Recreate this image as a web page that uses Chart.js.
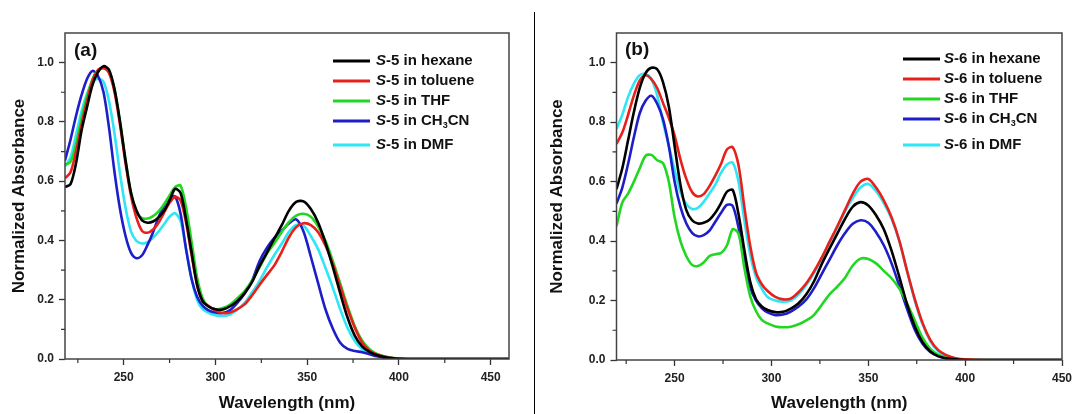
<!DOCTYPE html>
<html>
<head>
<meta charset="utf-8">
<script src="https://cdn.jsdelivr.net/npm/chart.js@4.4.1/dist/chart.umd.min.js"></script>
<style>
  html, body { margin: 0; padding: 0; background: #fff; }
  #wrap { position: relative; width: 1075px; height: 414px; overflow: hidden; background: #fff; }
  #chartA { position: absolute; left: 0; top: 0; }
  #chartB { position: absolute; left: 535px; top: 0; }
  #divider { position: absolute; left: 534px; top: 12px; width: 1px; height: 402px; background: #000; }
</style>
</head>
<body>
<div id="wrap">
  <canvas id="chartA" width="534" height="414"></canvas>
  <div id="divider"></div>
  <canvas id="chartB" width="540" height="414"></canvas>
</div>
<script>
  // wavelengths (nm)
  const waveA = [218, 221, 224, 227, 230, 233, 236, 239, 242, 245, 248, 251, 254, 257, 260, 263, 266, 269, 272, 275, 278, 281, 284, 287, 290, 293, 296,
    300, 304, 308, 312, 316, 320, 324, 328, 332, 336, 340, 344, 348, 352, 356, 360, 364, 368, 372, 376, 380, 384, 388, 392, 396, 400,
    410, 430, 460];

  const hexaneA = [0.58, 0.59, 0.66, 0.77, 0.85, 0.925, 0.968, 0.988, 0.976, 0.91, 0.80, 0.67, 0.56, 0.50, 0.468, 0.46, 0.464, 0.478, 0.50, 0.535, 0.574, 0.56, 0.47, 0.36, 0.25, 0.195, 0.178,
    0.168, 0.167, 0.178, 0.196, 0.223, 0.26, 0.313, 0.358, 0.405, 0.45, 0.50, 0.53, 0.532, 0.506, 0.46, 0.392, 0.31, 0.222, 0.14, 0.078, 0.042, 0.024, 0.013, 0.007, 0.003, 0.001,
    0, 0, 0];
  const tolueneA = [0.61, 0.63, 0.70, 0.79, 0.87, 0.94, 0.975, 0.983, 0.965, 0.90, 0.79, 0.66, 0.55, 0.475, 0.432, 0.426, 0.437, 0.46, 0.494, 0.527, 0.547, 0.535, 0.46, 0.35, 0.25, 0.195, 0.18,
    0.163, 0.155, 0.157, 0.168, 0.185, 0.215, 0.25, 0.283, 0.315, 0.36, 0.41, 0.445, 0.458, 0.452, 0.428, 0.382, 0.32, 0.245, 0.17, 0.105, 0.055, 0.028, 0.015, 0.008, 0.003, 0.001,
    0, 0, 0];
  const thfA = [0.655, 0.665, 0.725, 0.81, 0.885, 0.945, 0.975, 0.98, 0.968, 0.91, 0.80, 0.672, 0.56, 0.495, 0.475, 0.474, 0.482, 0.498, 0.522, 0.552, 0.58, 0.585, 0.51, 0.395, 0.275, 0.205, 0.178,
    0.168, 0.172, 0.184, 0.205, 0.23, 0.265, 0.308, 0.355, 0.39, 0.427, 0.462, 0.484, 0.49, 0.48, 0.447, 0.398, 0.33, 0.255, 0.178, 0.11, 0.062, 0.033, 0.017, 0.009, 0.004, 0.001,
    0, 0, 0];
  const ch3cnA = [0.67, 0.74, 0.82, 0.89, 0.945, 0.972, 0.955, 0.9, 0.78, 0.63, 0.505, 0.415, 0.358, 0.34, 0.35, 0.385, 0.428, 0.478, 0.518, 0.545, 0.548, 0.49, 0.37, 0.27, 0.21, 0.18, 0.165,
    0.157, 0.155, 0.165, 0.19, 0.222, 0.265, 0.33, 0.375, 0.408, 0.432, 0.457, 0.471, 0.43, 0.345, 0.255, 0.167, 0.102, 0.055, 0.034, 0.027, 0.023, 0.016, 0.009, 0.004, 0.002, 0.001,
    0, 0, 0];
  const dmfA = [0.65, 0.68, 0.755, 0.835, 0.895, 0.935, 0.946, 0.935, 0.87, 0.76, 0.625, 0.51, 0.43, 0.398, 0.39, 0.394, 0.41, 0.43, 0.455, 0.48, 0.492, 0.465, 0.37, 0.27, 0.2, 0.168, 0.157,
    0.148, 0.145, 0.15, 0.167, 0.19, 0.225, 0.263, 0.308, 0.35, 0.388, 0.428, 0.452, 0.45, 0.415, 0.37, 0.307, 0.24, 0.168, 0.105, 0.06, 0.033, 0.02, 0.012, 0.006, 0.003, 0.001,
    0, 0, 0];

  // wavelengths (nm)
  const waveB = [220, 223, 226, 229, 232, 235, 238, 241, 244, 247, 250, 253, 256, 259, 262, 265, 268, 271, 274, 277, 280, 283, 286, 289, 292, 295, 298,
    302, 306, 310, 314, 318, 322, 326, 330, 334, 338, 342, 346, 350, 354, 358, 362, 366, 370, 374, 378, 382, 386, 390,
    395, 400, 410, 430, 450];

  const hexaneB = [0.575, 0.645, 0.74, 0.835, 0.915, 0.965, 0.983, 0.978, 0.935, 0.853, 0.72, 0.59, 0.505, 0.47, 0.459, 0.462, 0.472, 0.495, 0.528, 0.566, 0.572, 0.49, 0.37, 0.264, 0.205, 0.18, 0.168,
    0.161, 0.162, 0.173, 0.191, 0.221, 0.265, 0.323, 0.375, 0.425, 0.475, 0.516, 0.531, 0.52, 0.487, 0.44, 0.368, 0.28, 0.188, 0.113, 0.06, 0.029, 0.013, 0.006,
    0.002, 0, 0, 0, 0];
  const tolueneB = [0.727, 0.765, 0.825, 0.89, 0.94, 0.958, 0.945, 0.915, 0.865, 0.815, 0.755, 0.675, 0.61, 0.565, 0.55, 0.558, 0.585, 0.62, 0.66, 0.708, 0.716, 0.655, 0.515, 0.385, 0.295, 0.255, 0.232,
    0.212, 0.204, 0.207, 0.228, 0.258, 0.298, 0.345, 0.398, 0.45, 0.505, 0.56, 0.6, 0.609, 0.58, 0.537, 0.48, 0.402, 0.3, 0.205, 0.125, 0.068, 0.034, 0.017,
    0.006, 0.002, 0, 0, 0];
  const thfB = [0.45, 0.53, 0.56, 0.60, 0.645, 0.687, 0.69, 0.672, 0.662, 0.60, 0.48, 0.40, 0.35, 0.32, 0.316, 0.328, 0.35, 0.356, 0.36, 0.385, 0.44, 0.425, 0.31, 0.215, 0.165, 0.135, 0.123,
    0.113, 0.11, 0.112, 0.12, 0.133, 0.152, 0.186, 0.221, 0.247, 0.277, 0.318, 0.341, 0.34, 0.325, 0.3, 0.275, 0.24, 0.19, 0.133, 0.075, 0.037, 0.018, 0.008,
    0.003, 0.001, 0, 0, 0];
  const ch3cnB = [0.526, 0.58, 0.66, 0.75, 0.83, 0.872, 0.889, 0.862, 0.81, 0.72, 0.60, 0.515, 0.46, 0.428, 0.416, 0.42, 0.435, 0.465, 0.495, 0.522, 0.518, 0.445, 0.34, 0.245, 0.2, 0.175, 0.16,
    0.151, 0.153, 0.163, 0.18, 0.204, 0.242, 0.29, 0.338, 0.386, 0.427, 0.458, 0.47, 0.462, 0.43, 0.386, 0.325, 0.25, 0.172, 0.102, 0.055, 0.027, 0.013, 0.006,
    0.002, 0, 0, 0, 0];
  const dmfB = [0.777, 0.825, 0.885, 0.93, 0.958, 0.962, 0.945, 0.89, 0.80, 0.72, 0.64, 0.565, 0.525, 0.508, 0.512, 0.532, 0.56, 0.59, 0.63, 0.658, 0.664, 0.6, 0.47, 0.355, 0.28, 0.24, 0.212,
    0.2, 0.196, 0.2, 0.22, 0.252, 0.293, 0.342, 0.395, 0.445, 0.5, 0.545, 0.58, 0.592, 0.568, 0.528, 0.475, 0.4, 0.3, 0.2, 0.12, 0.064, 0.03, 0.014,
    0.005, 0.001, 0, 0, 0];

  const solvents = ["hexane", "toluene", "THF", "CH3CN", "DMF"];
  const lineColors = ["#000000", "#e8201c", "#22d622", "#1e1ec8", "#2ee6f5"];

  const fontFam = "'Liberation Sans', Arial, sans-serif";

  // frame box, minor ticks, panel tag and the legend with italic S / subscript 3
  const decorPlugin = {
    id: "decor",
    afterDraw(chart, args, opts) {
      const { ctx, chartArea: a } = chart;
      const x = chart.scales.x, y = chart.scales.y;
      ctx.save();
      ctx.strokeStyle = "#444";
      ctx.lineWidth = 1.5;
      ctx.strokeRect(a.left, a.top, a.right - a.left, a.bottom - a.top);

      ctx.strokeStyle = "#333";
      ctx.lineWidth = 1.2;
      ctx.beginPath();
      for (let v = Math.ceil(x.min / 25) * 25; v <= x.max; v += 25) {
        if (v % 50 === 0) continue;
        const px = x.getPixelForValue(v);
        ctx.moveTo(px, a.bottom);
        ctx.lineTo(px, a.bottom + 4);
      }
      for (let k = 1; k < 11; k += 2) {
        const py = y.getPixelForValue(k / 10);
        ctx.moveTo(a.left, py);
        ctx.lineTo(a.left - 4, py);
      }
      ctx.stroke();

      ctx.fillStyle = "#111";
      ctx.textBaseline = "middle";
      ctx.textAlign = "left";
      ctx.font = "bold 19px " + fontFam;
      ctx.fillText(opts.tag, opts.tagX, opts.tagY);

      chart.data.datasets.forEach((ds, i) => {
        const yy = opts.legendY[i];
        ctx.strokeStyle = ds.borderColor;
        ctx.lineWidth = 3;
        ctx.beginPath();
        ctx.moveTo(opts.lineX0, yy);
        ctx.lineTo(opts.lineX1, yy);
        ctx.stroke();

        let tx = opts.textX;
        ctx.fillStyle = "#111";
        ctx.font = "italic bold 15px " + fontFam;
        ctx.fillText(ds.label[0], tx, yy);
        tx += ctx.measureText(ds.label[0]).width;
        const parts = ds.label.slice(1).split(/(\d)(?=[A-Z])/);
        parts.forEach((p, j) => {
          if (j % 2 === 1) {
            ctx.font = "bold 9px " + fontFam;
            ctx.fillText(p, tx, yy + 5);
          } else {
            ctx.font = "bold 15px " + fontFam;
            ctx.fillText(p, tx, yy);
          }
          tx += ctx.measureText(p).width;
        });
      });
      ctx.restore();
    }
  };

  function makeChart(id, cfg) {
    return new Chart(document.getElementById(id), {
      type: "line",
      data: {
        datasets: cfg.series.map((vals, i) => ({
          label: cfg.compound + " in " + solvents[i],
          data: cfg.wave.map((w, j) => ({ x: w, y: vals[j] })),
          borderColor: lineColors[i],
          borderWidth: 2.6,
          pointRadius: 0,
          fill: false,
          tension: 0.3
        }))
      },
      options: {
        responsive: false,
        animation: false,
        devicePixelRatio: 1,
        layout: { padding: { left: 0, right: cfg.padRight, top: 33, bottom: 0 } },
        plugins: {
          legend: { display: false },
          tooltip: { enabled: false },
          decor: cfg.decor
        },
        scales: {
          x: {
            type: "linear",
            min: cfg.xMin,
            max: cfg.xMax,
            afterFit: (s) => { s.height = cfg.xAxisH; s.paddingLeft = 0; s.paddingRight = 0; },
            border: { display: false },
            grid: { drawOnChartArea: false, tickLength: 6, tickColor: "#333", tickWidth: 1.3 },
            ticks: {
              stepSize: 50,
              includeBounds: false,
              autoSkip: false,
              maxRotation: 0,
              padding: 5,
              color: "#222",
              font: { family: fontFam, size: 12, weight: "bold" }
            },
            title: {
              display: true,
              text: "Wavelength (nm)",
              color: "#111",
              font: { family: fontFam, size: 17, weight: "bold" },
              padding: { top: 0, bottom: cfg.xTitlePad }
            }
          },
          y: {
            min: 0,
            max: 1.1,
            afterFit: (s) => { s.width = cfg.yAxisW; s.paddingTop = 0; s.paddingBottom = 0; },
            border: { display: false },
            grid: { drawOnChartArea: false, tickLength: 6, tickColor: "#333", tickWidth: 1.3 },
            ticks: {
              stepSize: 0.2,
              includeBounds: false,
              padding: 5,
              color: "#222",
              font: { family: fontFam, size: 12, weight: "bold" },
              callback: (v) => v.toFixed(1)
            },
            title: {
              display: true,
              text: "Normalized Absorbance",
              color: "#111",
              font: { family: fontFam, size: 17, weight: "bold" },
              padding: { top: cfg.yTitlePad, bottom: 0 }
            }
          }
        }
      },
      plugins: [decorPlugin]
    });
  }

  makeChart("chartA", {
    compound: "S-5",
    wave: waveA,
    series: [hexaneA, tolueneA, thfA, ch3cnA, dmfA],
    xMin: 218, xMax: 460,
    padRight: 25, yAxisW: 65, xAxisH: 55,
    xTitlePad: 0.8, yTitlePad: 9,
    decor: { tag: "(a)", tagX: 74, tagY: 51, lineX0: 333, lineX1: 370, textX: 376, legendY: [61, 81, 101, 121, 145] }
  });

  makeChart("chartB", {
    compound: "S-6",
    wave: waveB,
    series: [hexaneB, tolueneB, thfB, ch3cnB, dmfB],
    xMin: 220, xMax: 450,
    padRight: 13, yAxisW: 81.5, xAxisH: 54,
    xTitlePad: 0, yTitlePad: 12,
    decor: { tag: "(b)", tagX: 90, tagY: 50, lineX0: 368, lineX1: 405, textX: 409, legendY: [59, 79, 99, 119, 145] }
  });
</script>
</body>
</html>
